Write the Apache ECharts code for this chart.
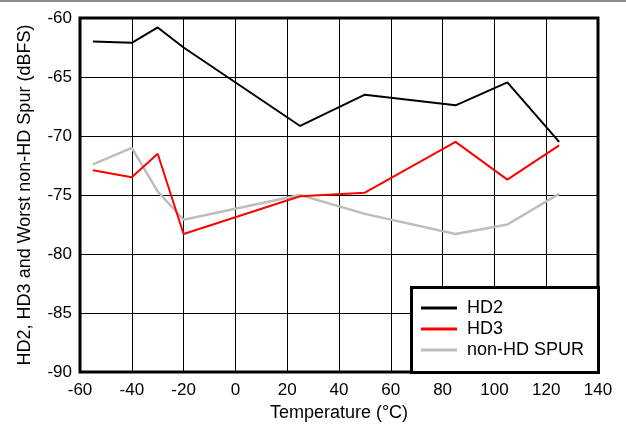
<!DOCTYPE html>
<html><head><meta charset="utf-8">
<script src="https://cdn.jsdelivr.net/npm/echarts@6/dist/echarts.min.js"></script>
<style>html,body{margin:0;padding:0;background:#fff}#c{width:626px;height:430px}</style>
</head><body><div id="c"></div>
<script>
const temps = [-55, -40, -30, -20, 25, 50, 85, 105, 125];
const hd2 = [-62.0, -62.1, -60.8, -62.5, -69.15, -66.5, -67.4, -65.45, -70.5];
const hd3 = [-72.9, -73.5, -71.5, -78.3, -75.1, -74.8, -70.5, -73.7, -70.8];
const spur = [-72.4, -71.0, -74.7, -77.1, -75.0, -76.6, -78.3, -77.5, -74.9];
const seriesNames = ['HD2', 'HD3', 'non-HD SPUR'];
const xTitle = 'Temperature (°C)';
const yTitle = 'HD2, HD3 and Worst non-HD Spur (dBFS)';

const font = '"Liberation Sans", Arial, Helvetica, sans-serif';
const pair = arr => temps.map((t, i) => [t, arr[i]]);
const chart = echarts.init(document.getElementById('c'), null, {renderer: 'canvas'});
chart.setOption({
  animation: false,
  backgroundColor: '#fff',
  grid: {left: 80, right: 28, top: 18, bottom: 58, show: true, borderColor: '#000', borderWidth: 3, backgroundColor: 'transparent'},
  xAxis: {
    type: 'value', min: -60, max: 140, interval: 20,
    name: xTitle, nameLocation: 'middle', nameGap: 31,
    nameTextStyle: {fontFamily: font, fontSize: 18, color: '#000'},
    axisLine: {show: false}, axisTick: {show: false},
    axisLabel: {fontFamily: font, fontSize: 17, color: '#000', margin: 10},
    splitLine: {show: true, lineStyle: {color: '#000', width: 1}}
  },
  yAxis: {
    type: 'value', min: -90, max: -60, interval: 5,
    name: yTitle, nameLocation: 'middle', nameGap: 46,
    nameTextStyle: {fontFamily: font, fontSize: 18, color: '#000'},
    axisLine: {show: false}, axisTick: {show: false},
    axisLabel: {fontFamily: font, fontSize: 17, color: '#000', margin: 8},
    splitLine: {show: true, lineStyle: {color: '#000', width: 1}}
  },
  legend: {
    orient: 'vertical', left: 421, top: 299, padding: 0, z: 10,
    itemWidth: 36, itemHeight: 3, itemGap: 3, icon: 'rect',
    textStyle: {fontFamily: font, fontSize: 18, color: '#000', padding: [0, 0, 0, 5]},
    data: seriesNames
  },
  graphic: [
    {type: 'rect', left: 0, top: 0, shape: {width: 626, height: 2}, style: {fill: '#8c8c8c'}, z: 1},
    {type: 'rect', left: 410, top: 286, shape: {width: 187, height: 85}, style: {fill: '#fff', stroke: '#000', lineWidth: 3}, z: 5}
  ],
  series: [
    {name: seriesNames[0], type: 'line', data: pair(hd2), showSymbol: false, lineStyle: {color: '#000', width: 2}, itemStyle: {color: '#000'}, z: 3},
    {name: seriesNames[1], type: 'line', data: pair(hd3), showSymbol: false, lineStyle: {color: '#ff0000', width: 2}, itemStyle: {color: '#ff0000'}, z: 3},
    {name: seriesNames[2], type: 'line', data: pair(spur), showSymbol: false, lineStyle: {color: '#bdbdbd', width: 2.5}, itemStyle: {color: '#bdbdbd'}, z: 2}
  ]
});
</script></body></html>
